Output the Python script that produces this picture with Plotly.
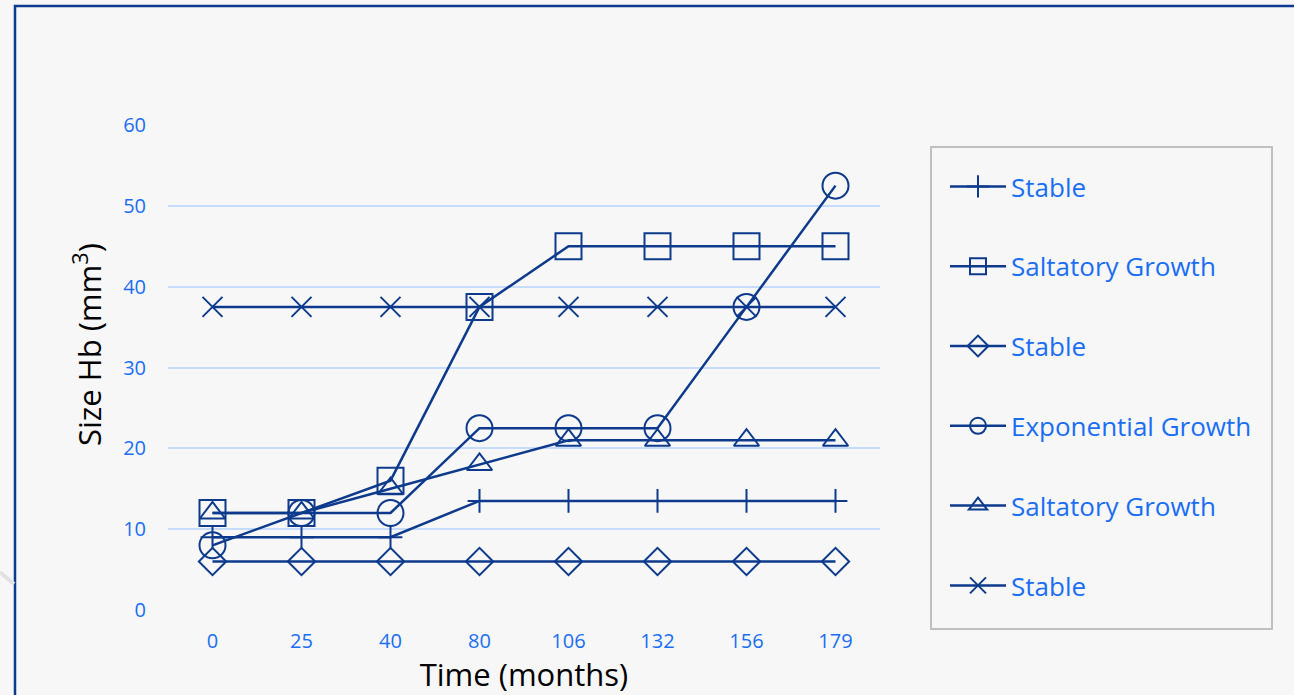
import plotly.graph_objects as go

# Follow-up times (months) shown as categories on the x axis
months = ["0", "25", "40", "80", "106", "132", "156", "179"]

# Hemangioblastoma size (mm³) per lesion
stable_a = [9, 9, 9, 13.5, 13.5, 13.5, 13.5, 13.5]
saltatory_a = [12, 12, 16, 37.5, 45, 45, 45, 45]
stable_b = [6, 6, 6, 6, 6, 6, 6, 6]
exponential = [8, 12, 12, 22.5, 22.5, 22.5, 37.5, 52.5]
saltatory_b = [12, 12, 15, 18, 21, 21, 21, 21]
stable_c = [37.5, 37.5, 37.5, 37.5, 37.5, 37.5, 37.5, 37.5]

series = [
    ("Stable", stable_a, "cross-thin-open", 17),
    ("Saltatory Growth", saltatory_a, "square-open", 26),
    ("Stable", stable_b, "diamond-open", 21),
    ("Exponential Growth", exponential, "circle-open", 26),
    ("Saltatory Growth", saltatory_b, "triangle-up-open", 22),
    ("Stable", stable_c, "x-thin-open", 20),
]

NAVY = "#0d3a8c"
BLUE = "#1a6ef5"
BG = "#f7f7f7"
FONT = "Open Sans"

W, H = 1294, 695
L, R, T, B = 168, 880, 125, 610  # plot area in pixels


def px_x(p):
    return (p - L) / (R - L)


def px_y(p):
    return (B - p) / (B - T)


fig = go.Figure()
for i, (name, vals, sym, size) in enumerate(series):
    fig.add_trace(go.Scatter(
        x=months, y=vals, name=name, mode="lines+markers",
        legendgroup=f"g{i}",
        line=dict(color=NAVY, width=2.5),
        marker=dict(symbol=sym, size=size, color=NAVY,
                    line=dict(color=NAVY, width=2)),
        cliponaxis=False,
    ))

fig.update_layout(
    width=W, height=H,
    margin=dict(l=L, r=W - R, t=T, b=H - B),
    paper_bgcolor=BG, plot_bgcolor=BG,
    font=dict(family=FONT, color=BLUE),
    showlegend=True,
    legend=dict(
        x=px_x(945), y=px_y(163), xanchor="left", yanchor="top",
        bgcolor="rgba(0,0,0,0)", borderwidth=0,
        font=dict(family=FONT, size=26, color=BLUE),
        tracegroupgap=43, itemwidth=56,
    ),
    xaxis=dict(
        type="category", range=[-0.5, 7.5],
        showgrid=False, zeroline=False, showline=False, ticks="",
        tickfont=dict(family=FONT, size=20, color=BLUE),
        ticklabelstandoff=17,
        title=dict(text="Time (months)", font=dict(family=FONT, size=31, color="black"),
                   standoff=2),
    ),
    yaxis=dict(
        range=[0, 60], dtick=10, tick0=0,
        showgrid=True, gridcolor="#c6dcff", gridwidth=2,
        zeroline=False, showline=False, ticks="",
        tickfont=dict(family=FONT, size=20, color=BLUE),
        ticklabelstandoff=21,
    ),
    annotations=[dict(
        text="Size Hb (mm<sup>3</sup>)", textangle=-90,
        xref="paper", yref="paper", x=px_x(87), y=px_y(345),
        xanchor="center", yanchor="middle", showarrow=False,
        font=dict(family=FONT, size=31, color="black"),
    )],
    shapes=[
        # frame around the chart area
        dict(type="rect", xref="paper", yref="paper",
             x0=px_x(15), x1=px_x(1310), y0=px_y(6), y1=px_y(710),
             line=dict(color="#0b3a8f", width=2.5), fillcolor="rgba(0,0,0,0)",
             layer="below"),
        # legend box
        dict(type="rect", xref="paper", yref="paper",
             x0=px_x(931), x1=px_x(1272), y0=px_y(147), y1=px_y(629),
             line=dict(color="#bfbfbf", width=2), fillcolor=BG,
             layer="below"),
        # faint decorative stroke at the left edge
        dict(type="line", xref="paper", yref="paper",
             x0=px_x(0), x1=px_x(14), y0=px_y(572), y1=px_y(584),
             line=dict(color="#e2e2e2", width=4)),
    ],
)

fig.write_html("out.html")
